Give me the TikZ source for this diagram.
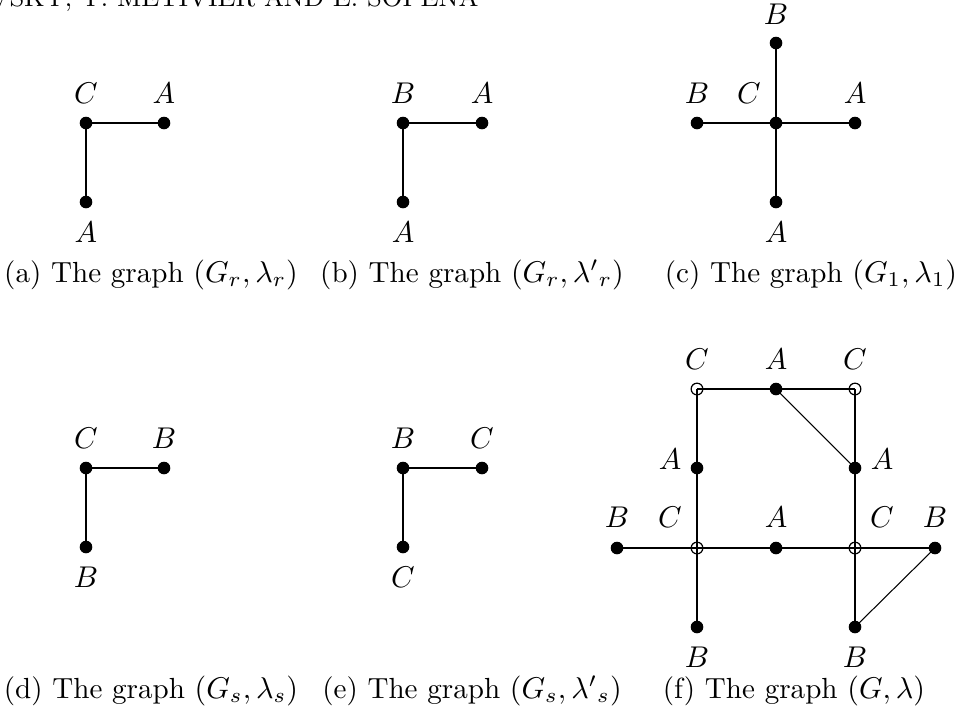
\documentclass[tikz,border=0pt]{standalone}
\usetikzlibrary{backgrounds}
\begin{document}
\begin{tikzpicture}[x=0.3333pt,y=-0.3333pt,
  dot/.style={circle,fill=black,inner sep=0pt,minimum size=4.2pt},
  hol/.style={circle,draw=black,line width=0.4pt,inner sep=0pt,minimum size=3.9pt},
  edge/.style={line width=0.6pt},
  thin edge/.style={line width=0.35pt},
  lab/.style={anchor=base,inner sep=0pt},
  captext/.style={anchor=base,inner sep=0pt,font=\fontsize{9.7}{12}\selectfont}]
\useasboundingbox (0,0) rectangle (959,724);
% header (cut off)
\node[anchor=base east,inner sep=0pt] (hdr) at (479,6) {\fontsize{8.6}{11}\selectfont VSKY, Y. MÉTIVIER AND E. SOPENA};
% (a)
\node[dot] (a1) at (86,123) {};
\node[dot] (a2) at (164,123) {};
\node[dot] (a3) at (86,202) {};
\node[lab] (la1) at (86,103) {$C$};
\node[lab] (la2) at (164,103) {$A$};
\node[lab] (la3) at (86,242) {$A$};
\node[captext] (ca) at (151,282) {(a) The graph $(G_r,\lambda_r)$};
% (b)
\node[dot] (b1) at (403,123) {};
\node[dot] (b2) at (482,123) {};
\node[dot] (b3) at (403,202) {};
\node[lab] (lb1) at (403,103) {$B$};
\node[lab] (lb2) at (482,103) {$A$};
\node[lab] (lb3) at (403,242) {$A$};
\node[captext] (cb) at (472,282) {(b) The graph $(G_r,{\lambda'}_r)$};
% (c)
\node[dot] (c0) at (776,123) {};
\node[dot] (c1) at (776,43) {};
\node[dot] (c2) at (697,123) {};
\node[dot] (c3) at (855,123) {};
\node[dot] (c4) at (776,202) {};
\node[lab] (lc1) at (776,24) {$B$};
\node[lab] (lc2) at (697,103) {$B$};
\node[lab] (lc0) at (749,103) {$C$};
\node[lab] (lc3) at (855,103) {$A$};
\node[lab] (lc4) at (776,242) {$A$};
\node[captext] (cc) at (811,282) {(c) The graph $(G_1,\lambda_1)$};
% (d)
\node[dot] (d1) at (86,468) {};
\node[dot] (d2) at (164,468) {};
\node[dot] (d3) at (86,547) {};
\node[lab] (ld1) at (86,448) {$C$};
\node[lab] (ld2) at (164,448) {$B$};
\node[lab] (ld3) at (86,587) {$B$};
\node[captext] (cd) at (151,698) {(d) The graph $(G_s,\lambda_s)$};
% (e)
\node[dot] (e1) at (403,468) {};
\node[dot] (e2) at (482,468) {};
\node[dot] (e3) at (403,547) {};
\node[lab] (le1) at (403,448) {$B$};
\node[lab] (le2) at (482,448) {$C$};
\node[lab] (le3) at (403,587) {$C$};
\node[captext] (ce) at (472,698) {(e) The graph $(G_s,{\lambda'}_s)$};
% (f)
\node[hol] (f1) at (697,389) {};
\node[dot] (f2) at (776,389) {};
\node[hol] (f3) at (855,389) {};
\node[dot] (f4) at (697,468) {};
\node[dot] (f5) at (855,468) {};
\node[dot] (f6) at (617,548) {};
\node[hol] (f7) at (697,548) {};
\node[dot] (f8) at (776,548) {};
\node[hol] (f9) at (855,548) {};
\node[dot] (f10) at (935,548) {};
\node[dot] (f11) at (697,627) {};
\node[dot] (f12) at (855,627) {};
\node[lab] (lf1) at (697,369) {$C$};
\node[lab] (lf2) at (776,369) {$A$};
\node[lab] (lf3) at (855,369) {$C$};
\node[lab] (lf4) at (670,469) {$A$};
\node[lab] (lf5) at (882,469) {$A$};
\node[lab] (lf6) at (617,527) {$B$};
\node[lab] (lf7) at (670,527) {$C$};
\node[lab] (lf8) at (776,527) {$A$};
\node[lab] (lf9) at (882,527) {$C$};
\node[lab] (lf10) at (935,527) {$B$};
\node[lab] (lf11) at (697,667) {$B$};
\node[lab] (lf12) at (855,667) {$B$};
\node[captext] (cf) at (794,698) {(f) The graph $(G,\lambda)$};
\begin{scope}[on background layer]
\draw[edge] (a1.center) -- (a2.center);
\draw[edge] (a1.center) -- (a3.center);
\draw[edge] (b1.center) -- (b2.center);
\draw[edge] (b1.center) -- (b3.center);
\draw[edge] (c0.center) -- (c1.center);
\draw[edge] (c0.center) -- (c2.center);
\draw[edge] (c0.center) -- (c3.center);
\draw[edge] (c0.center) -- (c4.center);
\draw[edge] (d1.center) -- (d2.center);
\draw[edge] (d1.center) -- (d3.center);
\draw[edge] (e1.center) -- (e2.center);
\draw[edge] (e1.center) -- (e3.center);
\draw[edge] (f1.center) -- (f2.center) -- (f3.center);
\draw[edge] (f1.center) -- (f4.center) -- (f7.center) -- (f11.center);
\draw[edge] (f3.center) -- (f5.center) -- (f9.center) -- (f12.center);
\draw[edge] (f6.center) -- (f7.center) -- (f8.center) -- (f9.center) -- (f10.center);
\draw[thin edge] (f2.center) -- (f5.center);
\draw[thin edge] (f10.center) -- (f12.center);
\end{scope}
\end{tikzpicture}
\end{document}
